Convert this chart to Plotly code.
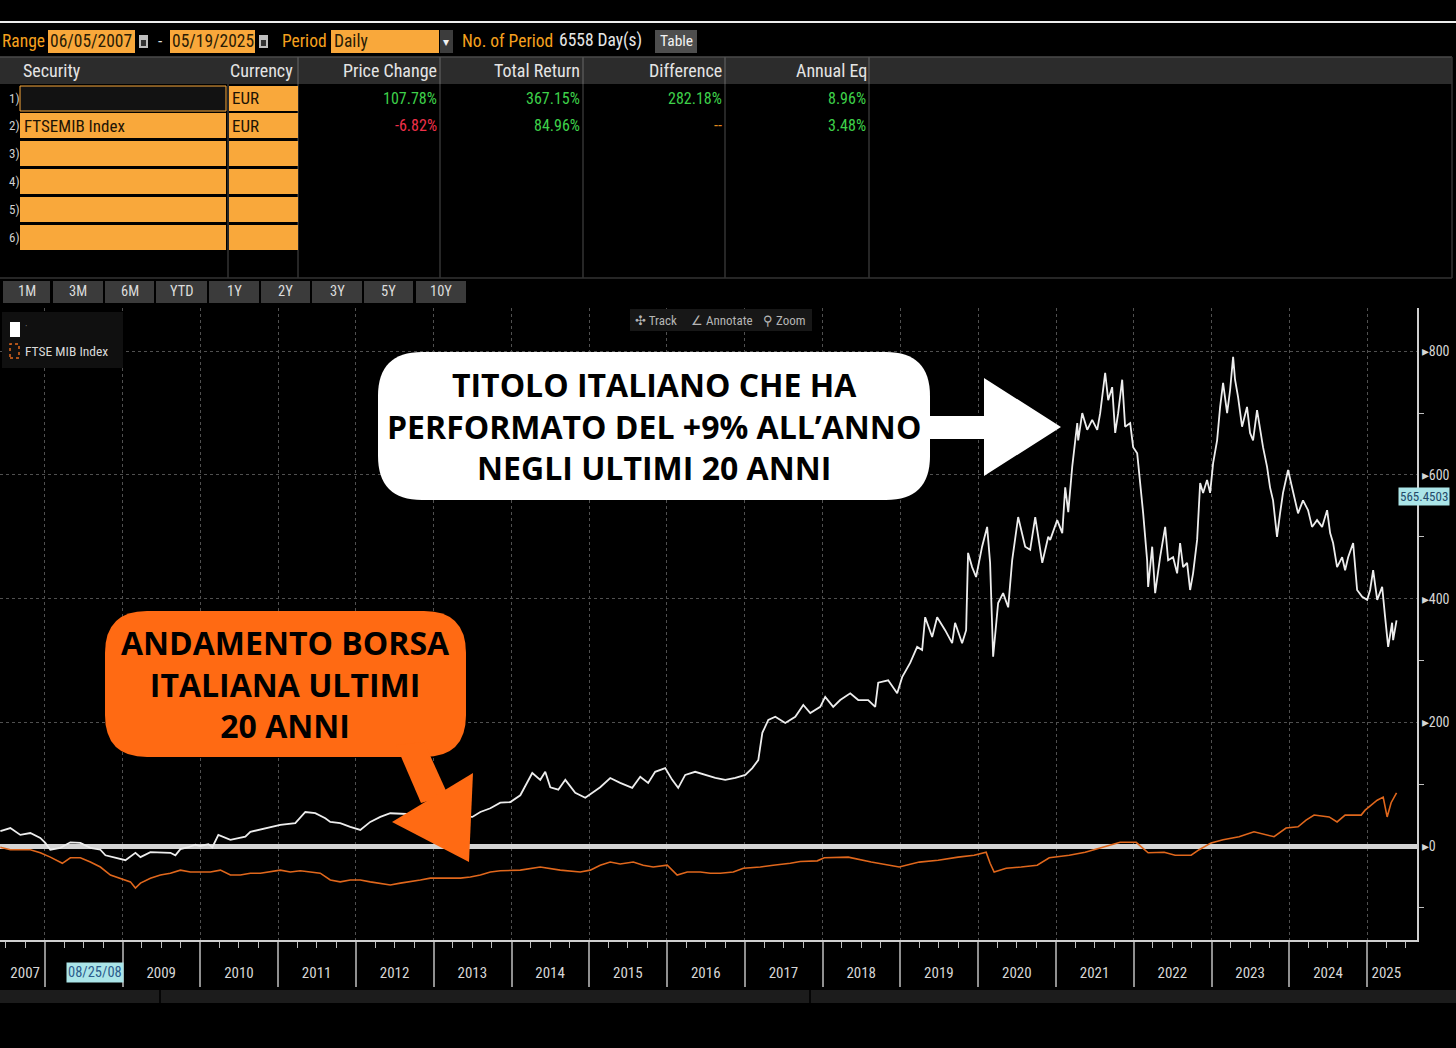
import plotly.graph_objects as go
import pandas as pd

# ---------------- DATA ----------------
# dates as decimal years, values in % (total return, base = 0)
STOCK_T = [2007.429, 2007.558, 2007.686, 2007.815, 2007.943, 2008.007, 2008.072, 2008.200, 2008.329, 2008.457,
           2008.586, 2008.714, 2008.779, 2008.907, 2009.036, 2009.164, 2009.229, 2009.357, 2009.486, 2009.614,
           2009.678, 2009.743, 2009.845, 2009.935, 2010.000, 2010.103, 2010.154, 2010.231, 2010.386, 2010.578,
           2010.643, 2010.835, 2011.028, 2011.221, 2011.350, 2011.478, 2011.607, 2011.671, 2011.799, 2011.928,
           2012.057, 2012.185, 2012.314, 2012.442, 2013.496, 2013.599, 2013.728, 2013.856, 2013.985, 2014.113,
           2014.203, 2014.267, 2014.370, 2014.434, 2014.499, 2014.602, 2014.692, 2014.820, 2014.949, 2015.039,
           2015.141, 2015.270, 2015.398, 2015.553, 2015.656, 2015.758, 2015.848, 2015.977, 2016.067, 2016.144,
           2016.234, 2016.362, 2016.491, 2016.620, 2016.748, 2016.877, 2017.005, 2017.095, 2017.172, 2017.224,
           2017.301, 2017.391, 2017.519, 2017.648, 2017.751, 2017.841, 2017.969, 2018.033, 2018.136, 2018.226,
           2018.355, 2018.458, 2018.586, 2018.676, 2018.715, 2018.843, 2018.959, 2019.023, 2019.126, 2019.216,
           2019.280, 2019.319, 2019.409, 2019.473, 2019.576, 2019.666, 2019.704, 2019.794, 2019.846, 2019.871,
           2019.923, 2019.974, 2020.051, 2020.116, 2020.154, 2020.193, 2020.257, 2020.321, 2020.386, 2020.437,
           2020.514, 2020.604, 2020.668, 2020.733, 2020.823, 2020.900, 2020.925, 2021.015, 2021.080, 2021.118,
           2021.157, 2021.208, 2021.273, 2021.285, 2021.337, 2021.401, 2021.465, 2021.530, 2021.568, 2021.632,
           2021.671, 2021.722, 2021.761, 2021.799, 2021.851, 2021.889, 2021.954, 2021.992, 2022.044, 2022.082,
           2022.121, 2022.172, 2022.185, 2022.237, 2022.275, 2022.339, 2022.404, 2022.442, 2022.506, 2022.558,
           2022.596, 2022.635, 2022.686, 2022.725, 2022.763, 2022.815, 2022.854, 2022.892, 2022.943, 2022.982,
           2023.021, 2023.072, 2023.111, 2023.149, 2023.201, 2023.239, 2023.278, 2023.303, 2023.342, 2023.393,
           2023.457, 2023.496, 2023.535, 2023.586, 2023.625, 2023.663, 2023.715, 2023.753, 2023.792, 2023.843,
           2023.882, 2023.920, 2023.985, 2024.036, 2024.075, 2024.113, 2024.177, 2024.242, 2024.293, 2024.357,
           2024.422, 2024.486, 2024.525, 2024.563, 2024.614, 2024.679, 2024.717, 2024.756, 2024.820, 2024.871,
           2024.936, 2025.000, 2025.038, 2025.077, 2025.129, 2025.193, 2025.231, 2025.270, 2025.321, 2025.334,
           2025.378]
STOCK_V = [24, 29, 18, 21, 13, 5, -6, -3, 6, 5,
           -3, -6, -15, -19, -23, -11, -18, -10, -11, -11,
           -15, -5, -2, 2, 0, 3, -2, 18, 10, 15,
           23, 29, 34, 37, 55, 53, 45, 39, 37, 31,
           26, 39, 47, 53, 47, 55, 61, 70, 71, 82,
           102, 118, 107, 120, 95, 91, 107, 86, 78, 86,
           95, 110, 102, 94, 112, 102, 120, 126, 107, 94,
           115, 120, 115, 110, 107, 110, 115, 126, 139, 183,
           204, 209, 199, 209, 228, 215, 225, 241, 225, 236,
           247, 236, 236, 225, 264, 268, 247, 273, 296, 322,
           317, 370, 338, 370, 349, 328, 361, 328, 349, 474,
           451, 435, 484, 516, 458, 306, 393, 409, 386, 462,
           532, 484, 479, 532, 458, 500, 495, 527, 506, 580,
           540, 613, 684, 656, 700, 673, 689, 673, 700, 765,
           721, 742, 668, 700, 754, 678, 684, 645, 635, 592,
           538, 462, 419, 484, 409, 467, 516, 462, 467, 441,
           490, 451, 458, 414, 441, 495, 587, 571, 592, 571,
           619, 656, 710, 749, 700, 737, 791, 754, 726, 678,
           710, 668, 656, 705, 673, 645, 613, 580, 559, 500,
           538, 571, 608, 580, 559, 538, 559, 543, 516, 527,
           516, 543, 506, 490, 451, 467, 446, 467, 490, 414,
           403, 398, 414, 446, 398, 419, 370, 322, 361, 333,
           365]

FTSE_T = [2007.429, 2007.558, 2007.815, 2007.943, 2008.072, 2008.226, 2008.329, 2008.457, 2008.586, 2008.714,
          2008.843, 2008.971, 2009.100, 2009.164, 2009.229, 2009.357, 2009.486, 2009.614, 2009.743, 2009.871,
          2010.000, 2010.129, 2010.257, 2010.386, 2010.514, 2010.643, 2010.771, 2010.900, 2011.028, 2011.157,
          2011.285, 2011.414, 2011.542, 2011.671, 2011.799, 2011.928, 2012.057, 2012.185, 2012.314, 2012.442,
          2012.571, 2012.699, 2012.828, 2012.956, 2013.085, 2013.213, 2013.342, 2013.470, 2013.599, 2013.728,
          2013.856, 2014.113, 2014.370, 2014.627, 2014.884, 2015.013, 2015.141, 2015.270, 2015.398, 2015.566,
          2015.694, 2015.823, 2016.003, 2016.131, 2016.260, 2016.427, 2016.555, 2016.684, 2016.851, 2016.980,
          2017.198, 2017.365, 2017.584, 2017.712, 2017.931, 2018.021, 2018.329, 2018.625, 2018.985, 2019.242,
          2019.486, 2019.743, 2019.949, 2020.103, 2020.154, 2020.206, 2020.360, 2020.553, 2020.758, 2020.913,
          2021.170, 2021.375, 2021.568, 2021.825, 2022.031, 2022.185, 2022.391, 2022.532, 2022.738, 2022.841,
          2022.995, 2023.149, 2023.355, 2023.547, 2023.805, 2023.959, 2024.113, 2024.216, 2024.319, 2024.512,
          2024.614, 2024.717, 2024.923, 2024.974, 2025.129, 2025.206, 2025.257, 2025.308, 2025.378]
FTSE_V = [-2, -6, -6, -11, -18, -28, -19, -19, -26, -34,
          -47, -52, -58, -68, -60, -52, -47, -44, -39, -42,
          -42, -42, -39, -47, -47, -44, -44, -42, -39, -42,
          -40, -42, -44, -55, -58, -55, -55, -58, -60, -63,
          -60, -58, -55, -52, -52, -52, -52, -50, -47, -42,
          -40, -39, -34, -39, -42, -39, -31, -26, -29, -26,
          -31, -34, -31, -47, -42, -42, -44, -44, -42, -36,
          -34, -31, -28, -25, -24, -19, -18, -26, -34, -26,
          -23, -18, -15, -10, -28, -42, -36, -34, -31, -19,
          -15, -10, -3, 6, 6, -11, -10, -15, -15, -6,
          5, 10, 15, 23, 15, 29, 31, 42, 50, 47,
          39, 50, 50, 58, 74, 79, 47, 70, 86]

YEARS = list(range(2007, 2026))
Y_TICKS = [0, 200, 400, 600, 800]
Y_MINOR = [-100, 100, 300, 500, 700]
X_RANGE = ["2007-06-05", "2025-08-23"]
Y_RANGE = [-152, 870]
CROSSHAIR_DATE = "2008-08-25"
CROSSHAIR_LABEL = "08/25/08"
LAST_VALUE = 565.4503

TABLE_HEADER = ["Security", "Currency", "Price Change", "Total Return", "Difference", "Annual Eq"]
ROW1 = ["", "EUR", "107.78%", "367.15%", "282.18%", "8.96%"]
ROW2 = ["FTSEMIB Index", "EUR", "-6.82%", "84.96%", "--", "3.48%"]
BUTTONS = ["1M", "3M", "6M", "YTD", "1Y", "2Y", "3Y", "5Y", "10Y"]

# ---------------- helpers ----------------
W, H = 1456, 1048
def X(p): return p / W
def Y(p): return 1 - p / H

def to_date(t):
    y = int(t)
    s = pd.Timestamp(year=y, month=1, day=1)
    e = pd.Timestamp(year=y + 1, month=1, day=1)
    return s + (e - s) * (t - y)

NARROW = "Roboto Condensed, Liberation Sans Narrow, Roboto, sans-serif"
BOLDF = "Open Sans, Noto Sans, DejaVu Sans, sans-serif"
AMBER = "#F9A83B"
AMBER_TXT = "#F5A01E"
ORANGE_CALL = "#FF6A13"
GREEN = "#3ED14A"
RED = "#F0304A"

shapes, ann = [], []

def rect(x0, y0, x1, y1, fill, line=None, lw=0, dash=None, layer="above"):
    ln = dict(width=lw, color=line if line else "rgba(0,0,0,0)")
    if dash:
        ln["dash"] = dash
    shapes.append(dict(type="rect", xref="paper", yref="paper", x0=X(x0), x1=X(x1),
                       y0=Y(y1), y1=Y(y0), fillcolor=fill, line=ln, layer=layer))

def seg(x0, y0, x1, y1, color, w=1, layer="above"):
    shapes.append(dict(type="line", xref="paper", yref="paper", x0=X(x0), x1=X(x1),
                       y0=Y(y0), y1=Y(y1), line=dict(color=color, width=w), layer=layer))

def poly(pts, fill):
    path = "M " + " L ".join(f"{X(a):.5f},{Y(b):.5f}" for a, b in pts) + " Z"
    shapes.append(dict(type="path", xref="paper", yref="paper", path=path, fillcolor=fill,
                       line=dict(width=0), layer="above"))

def rrect(x0, y0, x1, y1, r, fill):
    def P(a, b): return f"{X(a):.5f},{Y(b):.5f}"
    path = (f"M {P(x0+r, y0)} L {P(x1-r, y0)} Q {P(x1, y0)} {P(x1, y0+r)} "
            f"L {P(x1, y1-r)} Q {P(x1, y1)} {P(x1-r, y1)} L {P(x0+r, y1)} "
            f"Q {P(x0, y1)} {P(x0, y1-r)} L {P(x0, y0+r)} Q {P(x0, y0)} {P(x0+r, y0)} Z")
    shapes.append(dict(type="path", xref="paper", yref="paper", path=path, fillcolor=fill,
                       line=dict(width=0), layer="above"))

def text(x, y, s, size, color, anchor="left", family=NARROW, **kw):
    d = dict(xref="paper", yref="paper", x=X(x), y=Y(y), text=s, showarrow=False,
             xanchor=anchor, yanchor="middle", font=dict(size=size, color=color, family=family),
             borderpad=0)
    d.update(kw)
    ann.append(d)

# ---------------- top bar ----------------
seg(0, 22, W, 22, "#ededed", 2)
text(1, 41, "Range", 17.5, AMBER_TXT)
rect(48, 30, 135, 53, AMBER)
text(49, 41, "06/05/2007", 17.5, "#2a1c05")
rect(139, 35, 148, 48, "#bdbdbd"); rect(141, 40, 146, 46, "#333333")
text(157, 41, "-", 17, "#e0e0e0")
rect(170, 30, 255, 53, AMBER)
text(171, 41, "05/19/2025", 17.5, "#2a1c05")
rect(259, 35, 268, 48, "#bdbdbd"); rect(261, 40, 266, 46, "#333333")
text(281, 41, "Period", 17.5, AMBER_TXT)
rect(331, 30, 439, 53, AMBER)
rect(440, 30, 453, 53, "#3c3c3c")
text(446, 42, "▾", 12, "#f0f0f0", anchor="center", family="DejaVu Sans")
text(333, 41, "Daily", 17.5, "#2a1c05")
text(461, 41, "No. of Period", 17.5, AMBER_TXT)
text(558, 41, "6558 Day(s)", 17.5, "#e6e6e6")
rect(655, 30, 697, 53, "#4e4e4e")
text(676, 41, "Table", 15.5, "#f2f2f2", anchor="center")

# ---------------- table ----------------
rect(0, 57, 1452, 84, "#2c2c2c")
seg(0, 57, 1452, 57, "#4a4a4a", 1.5)
for cx in [298, 440, 583, 725, 869]:
    seg(cx, 57, cx, 84, "#555555", 1.5)
    seg(cx, 84, cx, 278, "#333333", 1.5)
seg(228, 84, 228, 278, "#333333", 1.5)
seg(1452, 57, 1452, 278, "#333333", 1.5)
seg(0, 278, 1452, 278, "#333333", 1.5)
hdr_pos = [(22, "left"), (229, "left"), (438, "right"), (581, "right"), (723, "right"), (868, "right")]
for (hx, anc), h in zip(hdr_pos, TABLE_HEADER):
    text(hx, 70, h, 18, "#e4e4e4", anchor=anc)

ROW_TOP = [86, 113, 141, 169, 197, 225]
for i, y0 in enumerate(ROW_TOP):
    y1 = y0 + 25
    if i == 0:
        rect(20, y0, 226, y1, "#121212", line=AMBER, lw=1)
    else:
        rect(20, y0, 226, y1, AMBER)
    rect(229, y0, 298, y1, AMBER)
    text(8, (y0 + y1) / 2, f"{i+1})", 13, "#d0d0d0")

val_x = [438, 581, 723, 867]
for row, yc in [(ROW1, 98.5), (ROW2, 125.5)]:
    if row[0]:
        text(23, yc, row[0], 17, "#1e1405")
    text(231, yc, row[1], 17, "#1e1405")
    for vx, v in zip(val_x, row[2:]):
        if v == "--":
            col = "#E08A1E"
        elif v.startswith("-"):
            col = RED
        else:
            col = GREEN
        text(vx, yc, v, 16, col, anchor="right")

# ---------------- period buttons ----------------
BTN_X = [(3, 50), (53, 103), (105, 154), (156, 207), (209, 259), (261, 310), (312, 362), (364, 413), (416, 466)]
for (bx0, bx1), b in zip(BTN_X, BUTTONS):
    rect(bx0, 281, bx1, 303, "#3b3b3b")
    text((bx0 + bx1) / 2, 292, b, 14.5, "#dcdcdc", anchor="center")

# ---------------- legend & toolbar ----------------
rect(2, 312, 123, 368, "#101010")
rect(10, 322, 20, 337, "#ffffff")
text(24, 326, "·", 10, "#777777")
rect(10, 344, 19, 358, "rgba(0,0,0,0)", line="#E0671C", lw=1.5, dash="dot")
text(24, 351, "FTSE MIB Index", 13.5, "#d8d8d8")

rect(630, 309, 812, 331, "#171717")
text(634, 320, "✣ Track", 13, "#b5b5b5")
text(690, 320, "∠ Annotate", 13, "#b5b5b5")
text(762, 320, "⚲ Zoom", 13, "#b5b5b5")

# ---------------- bottom scroll bar ----------------
rect(0, 990, W, 1003, "#1c1c1c", layer="below")
seg(160, 990, 160, 1003, "#050505", 2)
seg(810, 990, 810, 1003, "#050505", 2)

# ---------------- callouts ----------------
rrect(378, 352, 930, 500, 44, "#ffffff")
poly([(920, 416), (984, 416), (984, 378), (1061, 427), (984, 476), (984, 439), (920, 439)], "#ffffff")
text(654, 426, "<b>TITOLO ITALIANO CHE HA<br>PERFORMATO DEL +9% ALL’ANNO<br>NEGLI ULTIMI 20 ANNI</b>",
     32, "#000000", anchor="center", family=BOLDF)

rrect(105, 611, 466, 757, 42, ORANGE_CALL)
poly([(396, 745), (424, 742), (448, 795), (421, 803)], ORANGE_CALL)
poly([(392, 822), (473, 773), (469, 862)], ORANGE_CALL)
text(285, 684, "<b>ANDAMENTO BORSA<br>ITALIANA ULTIMI<br>20 ANNI</b>",
     32, "#000000", anchor="center", family=BOLDF)

# ---------------- chart ----------------
fig = go.Figure()
fig.add_trace(go.Scatter(x=[to_date(t) for t in FTSE_T], y=FTSE_V, mode="lines",
                         line=dict(color="#E0671C", width=1.6), hoverinfo="skip", showlegend=False))
fig.add_trace(go.Scatter(x=[to_date(t) for t in STOCK_T], y=STOCK_V, mode="lines",
                         line=dict(color="#EDEDED", width=1.8), hoverinfo="skip", showlegend=False))

# x ticks: quarter ticks; year labels in mid-year (partial years centred on visible part)
tickvals, ticktext = [], []
for yr in YEARS:
    for m in (4, 7, 10):
        d = pd.Timestamp(year=yr, month=m, day=1)
        if pd.Timestamp(X_RANGE[0]) <= d <= pd.Timestamp(X_RANGE[1]):
            lab = ""
            if yr == 2007 and m == 10:
                lab = "2007"
            elif yr == 2025 and m == 4:
                lab = "2025"
            elif 2009 <= yr <= 2024 and m == 7:
                lab = str(yr)
            tickvals.append(d)
            ticktext.append(lab)
year_starts = [pd.Timestamp(year=yr, month=1, day=1) for yr in YEARS[1:]]

# crosshair date label and last-value label
ann.append(dict(x=pd.Timestamp(CROSSHAIR_DATE), xref="x", y=Y(972), yref="paper", text=CROSSHAIR_LABEL,
                showarrow=False, bgcolor="#ABE5E8", font=dict(size=14.5, color="#2C5C8C", family=NARROW),
                borderpad=1, xanchor="center", yanchor="middle"))
ann.append(dict(x=X(1424), xref="paper", y=LAST_VALUE, yref="y", text=f"{LAST_VALUE:.4f}",
                showarrow=False, bgcolor="#ABE5E8", font=dict(size=13, color="#244a6a", family=NARROW),
                borderpad=1, xanchor="center", yanchor="middle"))

fig.update_layout(
    width=W, height=H, margin=dict(l=0, r=0, t=0, b=0),
    paper_bgcolor="#000000", plot_bgcolor="#000000", showlegend=False,
    shapes=shapes, annotations=ann,
    xaxis=dict(domain=[0, X(1417)], type="date", range=X_RANGE,
               showline=True, linecolor="#cfcfcf", linewidth=2,
               tickmode="array", tickvals=tickvals, ticktext=ticktext,
               ticks="outside", ticklen=6, tickcolor="#bdbdbd", tickwidth=1,
               tickfont=dict(size=15, color="#d6d6d6", family=NARROW), ticklabelstandoff=12,
               showgrid=False, zeroline=False, fixedrange=True,
               minor=dict(tickmode="array", tickvals=year_starts, ticks="outside", ticklen=45,
                          tickcolor="#8f8f8f", tickwidth=1.5, showgrid=True,
                          gridcolor="#505050", griddash="dot", gridwidth=1)),
    yaxis=dict(domain=[Y(940), Y(308)], side="right", range=Y_RANGE,
               tickmode="array", tickvals=Y_TICKS, ticktext=["▸" + str(v) for v in Y_TICKS],
               ticks="", tickfont=dict(size=14, color="#d6d6d6", family=NARROW),
               showgrid=True, gridcolor="#505050", griddash="dot", gridwidth=1,
               zeroline=True, zerolinecolor="#d4d4d4", zerolinewidth=5,
               showline=True, linecolor="#cfcfcf", linewidth=2, fixedrange=True,
               minor=dict(tickmode="array", tickvals=Y_MINOR, ticks="outside", ticklen=5,
                          tickcolor="#bdbdbd", showgrid=False)),
)

fig.write_html("out.html", config={"displayModeBar": False},
               post_script="document.body.style.margin='0';document.body.style.overflow='hidden';")
